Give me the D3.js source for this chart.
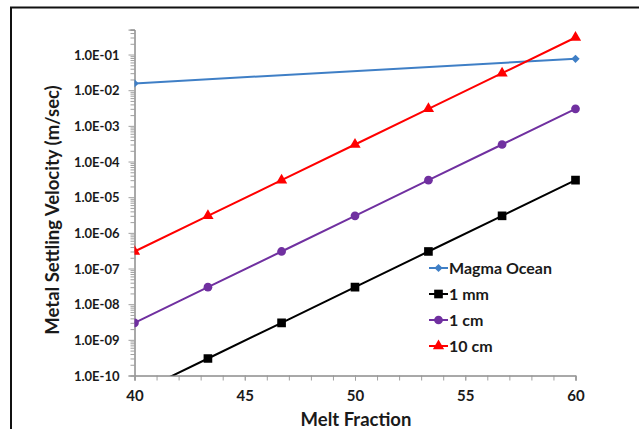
<!DOCTYPE html>
<html lang="en">
<head>
<meta charset="utf-8">
<title>Metal settling velocity vs melt fraction</title>
<script src="https://cdn.jsdelivr.net/npm/d3@7"></script>
<style>
  body { margin: 0; background: #fff; }
  svg { display: block; font-family: Lato, "Open Sans", sans-serif; }
</style>
</head>
<body>
<script>
// data
var meltFraction = [40, 43.33, 46.67, 50, 53.33, 56.67, 60];
var magmaX = [40, 60];
var magmaOcean = [0.0155, 0.076];
var oneMm = [3e-11, 3e-10, 3e-9, 3e-8, 3e-7, 3e-6, 3e-5];
var oneCm = [3e-9, 3e-8, 3e-7, 3e-6, 3e-5, 3e-4, 3e-3];
var tenCm = [3e-7, 3e-6, 3e-5, 3e-4, 3e-3, 3e-2, 3e-1];
var yTickValues = [1e-10, 1e-9, 1e-8, 1e-7, 1e-6, 1e-5, 1e-4, 1e-3, 1e-2, 1e-1];
var xTickValues = [40, 45, 50, 55, 60];

var w = 639, h = 429;
var pLeft = 134.5, pRight = 575.5, pTop = 29.6, pBottom = 375.5;

var svg = d3.select("body").append("svg").attr("width", w).attr("height", h);

// page frame (cropped from a document)
svg.append("line").attr("x1", 10).attr("x2", w).attr("y1", 7.5).attr("y2", 7.5)
  .attr("stroke", "#111").attr("stroke-width", 2);
svg.append("line").attr("x1", 11).attr("x2", 11).attr("y1", 7).attr("y2", h)
  .attr("stroke", "#111").attr("stroke-width", 2);

var x = d3.scaleLinear().domain([40, 60]).range([pLeft, pRight]);
var y = d3.scaleLog().domain([1e-10, 0.5]).range([pBottom, pTop]);

// minor ticks on y
var minor = [];
for (var e = -10; e <= -1; e++) {
  for (var m = 2; m <= 9; m++) {
    var v = m * Math.pow(10, e);
    if (v <= 0.5) minor.push(v);
  }
}
var gy = svg.append("g").attr("transform", "translate(" + pLeft + ",0)");
gy.append("g").call(d3.axisLeft(y).tickValues(minor).tickSize(4).tickFormat(""));
gy.append("g").call(d3.axisLeft(y).tickValues(yTickValues).tickSize(6).tickFormat(function(d) {
  return d.toExponential(1).toUpperCase().replace(/E-(\d)$/, "E-0$1");
}));
gy.selectAll(".domain").attr("stroke", "#8c8c8c");
gy.selectAll(".tick line").attr("stroke", "#a0a0a0");
gy.selectAll(".tick text")
  .attr("x", -15).attr("dy", "0.35em")
  .attr("font-size", 13).attr("font-weight", "bold").attr("fill", "#1a1a1a")
  .attr("font-family", "Lato");

var gx = svg.append("g").attr("transform", "translate(0," + pBottom + ")");
gx.append("g").call(d3.axisBottom(x).tickValues(d3.range(40, 61, 1)).tickSize(5).tickFormat(""));
gx.append("g").call(d3.axisBottom(x).tickValues(xTickValues).tickSize(5).tickFormat(d3.format("d")));
gx.selectAll(".domain").attr("stroke", "#8c8c8c");
gx.selectAll(".tick line").attr("stroke", "#a0a0a0");
gx.selectAll(".tick text").attr("y", 15).attr("dy", "0.71em")
  .attr("font-size", 15).attr("font-weight", "bold").attr("fill", "#1a1a1a")
  .attr("font-family", "Lato");

// axis titles
svg.append("text").attr("transform", "translate(59,210) rotate(-90)")
  .attr("text-anchor", "middle").attr("font-size", 18.5).attr("font-weight", "bold")
  .attr("fill", "#1a1a1a").text("Metal Settling Velocity (m/sec)");
svg.append("text").attr("x", 356).attr("y", 426)
  .attr("text-anchor", "middle").attr("font-size", 18.5).attr("font-weight", "bold")
  .attr("fill", "#1a1a1a").text("Melt Fraction");

svg.append("clipPath").attr("id", "plot").append("rect")
  .attr("x", pLeft).attr("y", 0).attr("width", pRight - pLeft + 10).attr("height", pBottom);

// diamond = square turned 45 degrees
var series = [
  { name: "Magma Ocean", xs: magmaX, ys: magmaOcean, color: "#3f7fc6", shape: d3.symbolSquare, size: 34, rot: 45 },
  { name: "1 mm", xs: meltFraction, ys: oneMm, color: "#000000", shape: d3.symbolSquare, size: 75, rot: 0 },
  { name: "1 cm", xs: meltFraction, ys: oneCm, color: "#7030a0", shape: d3.symbolCircle, size: 60, rot: 0 },
  { name: "10 cm", xs: meltFraction, ys: tenCm, color: "#ff0000", shape: d3.symbolTriangle, size: 55, rot: 0 }
];

var line = d3.line().x(function(d) { return x(d[0]); }).y(function(d) { return y(d[1]); });
var plot = svg.append("g").attr("clip-path", "url(#plot)");

series.forEach(function(s) {
  var pts = s.xs.map(function(v, i) { return [v, s.ys[i]]; });
  plot.append("path").datum(pts).attr("d", line)
    .attr("fill", "none").attr("stroke", s.color).attr("stroke-width", 2);
  plot.selectAll(null).data(pts.filter(function(d) { return d[1] >= 1e-10; }))
    .enter().append("path")
    .attr("d", d3.symbol().type(s.shape).size(s.size))
    .attr("transform", function(d) {
      return "translate(" + x(d[0]) + "," + y(d[1]) + ") rotate(" + s.rot + ")";
    })
    .attr("fill", s.color);
});

// legend
var lg = svg.append("g");
series.forEach(function(s, i) {
  var ly = 268 + i * 26;
  lg.append("line").attr("x1", 429).attr("x2", 448).attr("y1", ly).attr("y2", ly)
    .attr("stroke", s.color).attr("stroke-width", 2);
  lg.append("path").attr("d", d3.symbol().type(s.shape).size(s.size))
    .attr("transform", "translate(438.5," + ly + ") rotate(" + s.rot + ")").attr("fill", s.color);
  lg.append("text").attr("x", 449).attr("y", ly).attr("dy", "0.35em")
    .attr("font-size", 16).attr("font-weight", "bold").attr("fill", "#1a1a1a")
    .text(s.name);
});
</script>
</body>
</html>
